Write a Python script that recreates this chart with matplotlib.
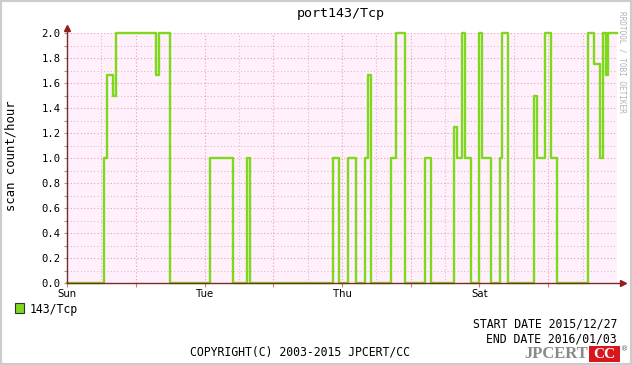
import matplotlib
matplotlib.use('Agg')
import matplotlib.pyplot as plt
from matplotlib.patches import Rectangle

# hours since 2015/12/27 00:00 where the level changes, and the level from there on
change_hours = [0, 13, 14, 16, 17, 31, 32, 36, 50, 58, 63, 64, 93, 95, 98, 101,
                104, 105, 106, 113, 115, 118, 125, 127, 135, 136, 138, 139, 141,
                144, 145, 148, 151, 152, 154, 163, 164, 167, 169, 171, 182, 184,
                186, 187, 188, 189]
levels = [0, 1.0, 1.667, 1.5, 2.0, 1.667, 2.0, 0, 1.0, 0, 1.0, 0, 1.0, 0, 1.0, 0,
          1.0, 1.667, 0, 1.0, 2.0, 0, 1.0, 0, 1.25, 1.0, 2.0, 1.0, 0,
          2.0, 1.0, 0, 1.0, 2.0, 0, 1.5, 1.0, 2.0, 1.0, 0, 2.0, 1.75,
          1.0, 2.0, 1.667, 2.0]
end_hour = 192

day_ticks = [0, 48, 96, 144]
day_labels = ['Sun', 'Tue', 'Thu', 'Sat']
y_ticks = [0.0, 0.2, 0.4, 0.6, 0.8, 1.0, 1.2, 1.4, 1.6, 1.8, 2.0]

title = 'port143/Tcp'
y_label = 'scan count/hour'
series_name = '143/Tcp'
start_date = '2015/12/27'
end_date = '2016/01/03'

W, H = 632, 365
mono = 'DejaVu Sans Mono'
line_col = '#7fd81c'
axis_col = '#7a2a2a'

def fx(px):
    return px / W

def fy(py):
    return 1 - py / H

fig = plt.figure(figsize=(W / 100, H / 100), dpi=100)
fig.patch.set_facecolor('white')
ax = fig.add_axes([fx(67), 82 / H, 550 / W, 250 / H])
ax.set_facecolor('#fff0fc')

#step line (extend last level to the end)
xs = change_hours + [end_hour]
ys = levels + [levels[-1]]
ax.step(xs, ys, where='post', color=line_col, lw=1.7, zorder=3, clip_on=False)

ax.set_xlim(0, end_hour)
ax.set_ylim(0, 2.0)

#grid: minor every 12h / 0.1, major every day / 0.2
for h in range(12, end_hour, 24):
    ax.axvline(h, color='#d6bcd0', lw=0.8, ls=(0, (1, 2)), zorder=1)
for h in range(24, end_hour, 24):
    ax.axvline(h, color='#e9a0ae', lw=0.8, ls=(0, (1, 2)), zorder=1)
for i in range(1, 21):
    v = i / 10
    c = '#e9a0ae' if i % 2 == 0 else '#dcbccd'
    ax.axhline(v, color=c, lw=0.8, ls=(0, (1, 2)), zorder=1)

for s in ax.spines.values():
    s.set_visible(False)

#axis lines with arrows
ax.plot([0, 0], [0, 1.015], transform=ax.transAxes, color=axis_col, lw=1, clip_on=False, zorder=4)
ax.plot([0, 1.009], [0, 0], transform=ax.transAxes, color=axis_col, lw=1, clip_on=False, zorder=4)
ax.plot([0], [1.02], marker='^', ms=5, color='#9b1c1c', transform=ax.transAxes, clip_on=False)
ax.plot([1.011], [0], marker='>', ms=5, color='#9b1c1c', transform=ax.transAxes, clip_on=False)

ax.set_yticks(y_ticks)
ax.set_yticklabels(['%.1f' % v for v in y_ticks], fontfamily=mono, fontsize=7.6)
ax.set_yticks([i / 10 for i in range(1, 20, 2)], minor=True)
ax.tick_params(axis='y', which='both', length=2.5, width=0.8, color='#b09090', pad=2)

ax.set_xticks(day_ticks)
ax.set_xticklabels(day_labels, fontsize=7.3)
ax.set_xticks(list(range(24, end_hour, 24)), minor=True)
ax.tick_params(axis='x', which='major', length=3, width=0.8, color='#e07070', pad=1)
ax.tick_params(axis='x', which='minor', length=3, width=0.8, color='#e07070')

fig.text(fx(11), fy(156), y_label, fontfamily=mono, fontsize=8.8, rotation=90,
         ha='center', va='center')

fig.text(fx(341), fy(13), title, fontfamily=mono, fontsize=9.6, ha='center', va='center')

fig.text(fx(622), fy(11), 'RRDTOOL / TOBI OETIKER', fontfamily=mono, fontsize=5.6,
         color='#b4b4b4', rotation=270, ha='center', va='top')

#legend
fig.patches.append(Rectangle((fx(15), fy(313)), 9 / W, 10 / H, transform=fig.transFigure,
                             facecolor=line_col, edgecolor='#333333', lw=0.8))
fig.text(fx(30), fy(309), series_name, fontfamily=mono, fontsize=8.3, va='center')

fig.text(fx(617), fy(324), 'START DATE ' + start_date, fontfamily=mono, fontsize=8.3,
         ha='right', va='center')
fig.text(fx(617), fy(339), 'END DATE ' + end_date, fontfamily=mono, fontsize=8.3,
         ha='right', va='center')
fig.text(fx(300), fy(352), 'COPYRIGHT(C) 2003-2015 JPCERT/CC', fontfamily=mono, fontsize=8.3,
         ha='center', va='center')

#JPCERT CC logo
fig.text(fx(588), fy(354), 'JPCERT', fontfamily='Liberation Serif', fontweight='bold',
         fontsize=12, color='#8a8a8a', ha='right', va='center')
fig.patches.append(Rectangle((fx(589), fy(362)), 31 / W, 16 / H, transform=fig.transFigure,
                             facecolor='#d8161b', edgecolor='none'))
fig.text(fx(604.5), fy(354), 'CC', fontfamily='Liberation Serif', fontweight='bold',
         fontsize=11, color='white', ha='center', va='center')
fig.text(fx(625), fy(349), '\u00ae', fontsize=5, color='#555555', ha='center', va='center')

#grey frame
fig.patches.append(Rectangle((0, 0), 1, 1, transform=fig.transFigure, facecolor='none',
                             edgecolor='#cccccc', lw=3))

fig.savefig('out.png', dpi=100)
